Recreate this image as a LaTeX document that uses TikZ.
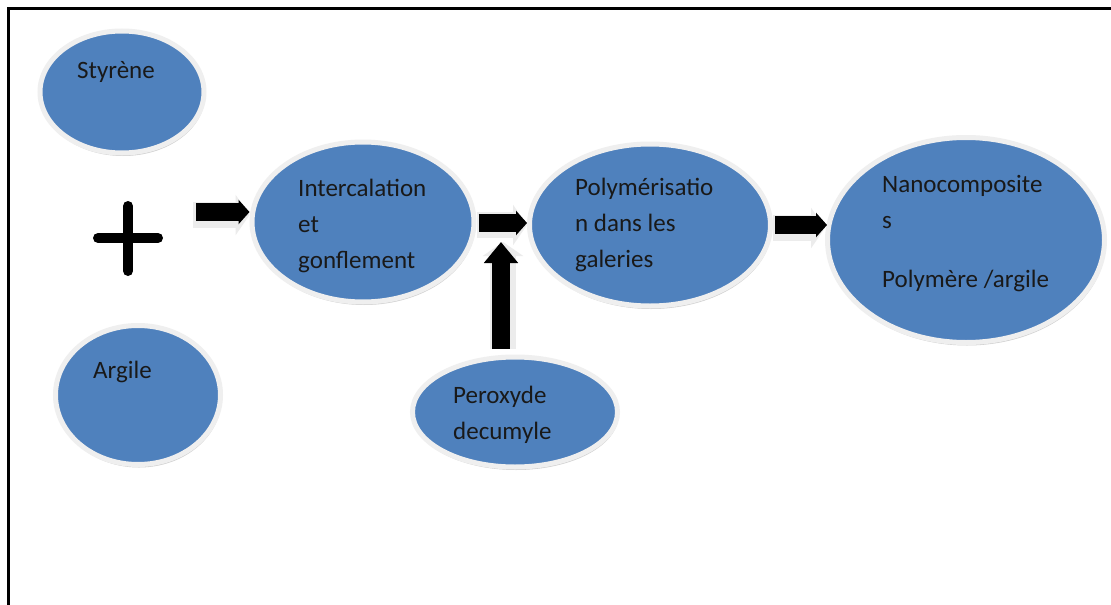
\documentclass[tikz,border=0pt]{standalone}
\usepackage{fontspec}
\setmainfont{Carlito}
\usetikzlibrary{shapes.geometric,arrows.meta,shadows}
\definecolor{officeblue}{HTML}{4F81BD}
\definecolor{ringgray}{HTML}{EFEFEF}
\tikzset{
  blob/.style={ellipse, draw=ringgray, line width=5pt, fill=officeblue, inner sep=0pt,
    drop shadow={shadow xshift=1pt, shadow yshift=-3pt, fill=gray!60, opacity=0.6}},
  txt/.style={anchor=base west, align=left, inner sep=0pt, font=\fontsize{25}{36}\selectfont, text=black!90},
  blockarrow/.style={line width=18pt, -{Triangle[length=11pt, width=24pt]}, black},
  blockshadow/.style={line width=26pt, -{Triangle[length=14pt, width=40pt]}, gray!15},
  frameline/.style={line width=3pt, black}
}
\begin{document}
\begin{tikzpicture}[x=1pt, y=-1pt]
\useasboundingbox (0,0) rectangle (1111,605);
\fill[white] (0,0) rectangle (1111,605);
% frame
\draw[frameline] (8,605) -- (8,8) -- (1111,8);

% ellipses
\node[blob, minimum width=164pt, minimum height=122pt] (sty) at (122,92) {};
\node[blob, minimum width=165pt, minimum height=139pt] (arg) at (138,395) {};
\node[blob, minimum width=222pt, minimum height=160pt] (inter) at (363,222) {};
\node[blob, minimum width=241pt, minimum height=162pt] (poly) at (650,225) {};
\node[blob, minimum width=277pt, minimum height=205pt] (nano) at (966,240) {};
\node[blob, minimum width=205pt, minimum height=110pt] (perox) at (515,412) {};

% texts (anchor at baseline of last line)
\node[txt] (tsty) at (77,78) {Styrène};
\node[txt] (targ) at (93,378) {Argile};
\node[txt] (tinter) at (298,268) {Intercalation\\et\\gonflement};
\node[txt] (tpoly) at (575,267) {Polymérisatio\\n dans les\\galeries};
\node[txt] (tnano) at (882,287) {Nanocomposite\\s\\[23pt]Polymère /argile};
\node[txt] (tperox) at (453,439) {Peroxyde\\decumyle};

% plus sign
\draw[line width=10pt, line cap=round] (98,238) -- (158,238);
\draw[line width=10pt, line cap=round] (128,206) -- (128,271);

% arrows
\coordinate (a1) at (196,212);
\coordinate (upstart) at (501,349);
\coordinate (uptip) at (501,242);
% shadows
\draw[blockshadow] ([xshift=-3pt,yshift=-3pt]a1) -- ([xshift=0pt,yshift=-3pt]a1 -| inter.west);
\draw[blockshadow] ([yshift=-3pt]inter.east) -- ([yshift=-3pt]inter.east -| poly.west);
\draw[blockshadow] ([yshift=-3pt]poly.east) -- ([yshift=-3pt]poly.east -| nano.west);
\draw[blockshadow] ([xshift=2pt]upstart) -- ([xshift=2pt]uptip);
% black arrows
\draw[blockarrow] (a1) -- (a1 -| inter.west);
\draw[blockarrow] ([xshift=2pt,yshift=-1pt]inter.east) -- ([yshift=-1pt]inter.east -| poly.west);
\draw[blockarrow] ([xshift=2pt]poly.east) -- ([xshift=2pt]poly.east -| nano.west);
\draw[line width=18pt, -{Triangle[length=21pt, width=33pt]}, black] (upstart) -- (uptip);
\end{tikzpicture}
\end{document}
